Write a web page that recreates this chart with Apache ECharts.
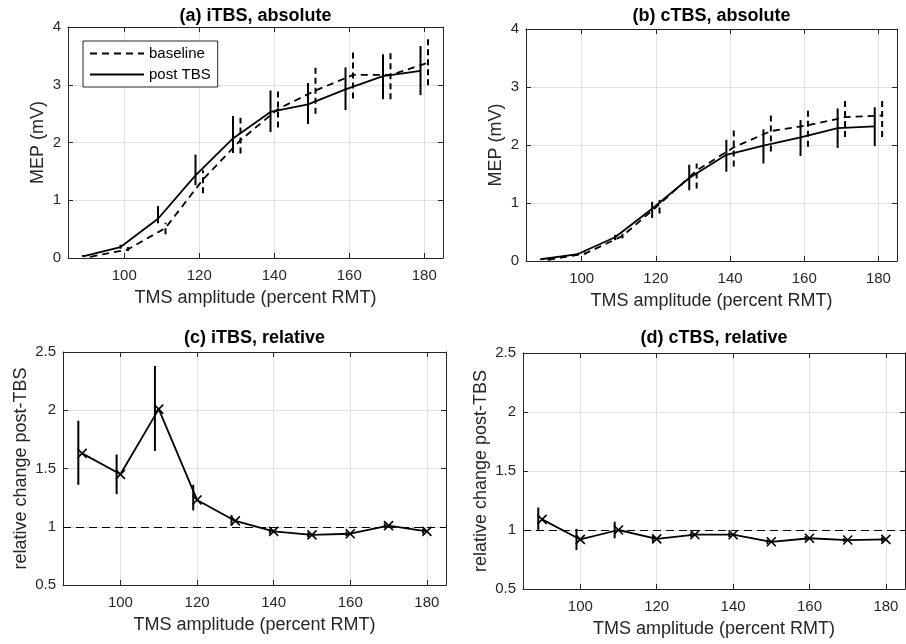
<!DOCTYPE html>
<html><head><meta charset="utf-8">
<script src="https://cdn.jsdelivr.net/npm/echarts@6/dist/echarts.min.js"></script>
<style>html,body{margin:0;padding:0;background:#fff}#c{width:906px;height:644px}</style>
</head><body><div id="c"></div>
<script>
// ---- data ----
const amp = [90,100,110,120,130,140,150,160,170,180];
const xTicks = [100,120,140,160,180];

// (a) iTBS absolute (MEP, mV)
const itbsBaseMean = [0.02,0.15,0.52,1.36,2.04,2.58,2.90,3.17,3.17,3.38];
const itbsBaseLo   = [0.01,0.12,0.41,1.12,1.81,2.26,2.50,2.76,2.75,2.99];
const itbsBaseHi   = [0.03,0.19,0.61,1.52,2.43,2.90,3.33,3.57,3.57,3.80];
const itbsPostMean = [0.03,0.19,0.68,1.43,2.07,2.53,2.66,2.92,3.15,3.24];
const itbsPostLo   = [0.02,0.16,0.60,1.26,1.82,2.18,2.32,2.56,2.75,2.82];
const itbsPostHi   = [0.05,0.23,0.90,1.79,2.46,2.90,3.03,3.30,3.53,3.67];

// (b) cTBS absolute (MEP, mV)
const ctbsBaseMean = [0.02,0.13,0.43,0.98,1.56,1.96,2.24,2.34,2.48,2.51];
const ctbsBaseLo   = [0.01,0.11,0.39,0.82,1.25,1.63,1.89,1.97,2.14,2.14];
const ctbsBaseHi   = [0.03,0.15,0.47,1.05,1.68,2.26,2.55,2.60,2.78,2.79];
const ctbsPostMean = [0.03,0.12,0.41,0.90,1.43,1.83,1.99,2.13,2.29,2.32];
const ctbsPostLo   = [0.02,0.10,0.36,0.74,1.22,1.54,1.68,1.81,1.95,1.98];
const ctbsPostHi   = [0.04,0.14,0.45,1.02,1.66,2.09,2.27,2.43,2.63,2.65];

// (c) iTBS relative change
const itbsRelMean = [1.63,1.45,2.01,1.23,1.05,0.96,0.93,0.94,1.01,0.96];
const itbsRelLo   = [1.36,1.28,1.65,1.14,1.01,0.94,0.91,0.92,0.99,0.94];
const itbsRelHi   = [1.91,1.62,2.38,1.36,1.10,0.98,0.95,0.96,1.03,0.98];

// (d) cTBS relative change
const ctbsRelMean = [1.09,0.92,1.00,0.925,0.96,0.96,0.90,0.93,0.915,0.92];
const ctbsRelLo   = [0.99,0.83,0.93,0.90,0.94,0.94,0.88,0.91,0.90,0.90];
const ctbsRelHi   = [1.19,1.01,1.07,0.95,0.98,0.98,0.92,0.95,0.93,0.94];

const titles = ['(a) iTBS, absolute','(b) cTBS, absolute','(c) iTBS, relative','(d) cTBS, relative'];

// ---- layout / style ----
const FF = 'Liberation Sans, Arial, Helvetica, sans-serif';
const TXT = '#262626';
const GRID = '#dfdfdf';
const grids = [
  {left:68, top:27, width:375, height:231},
  {left:526, top:29, width:371, height:232},
  {left:63, top:352, width:383, height:233},
  {left:523, top:353, width:382, height:236}
];
const titleTops = [7, 7, 329, 329];
const yNames = ['MEP (mV)','MEP (mV)','relative change post-TBS','relative change post-TBS'];
const yNameGaps = [21, 21, 33, 33];
const yRanges = [[0,4,1],[0,4,1],[0.5,2.5,0.5],[0.5,2.5,0.5]];

function pts(xs, ys, d){ return xs.map((x,i)=>[x+d, ys[i]]); }
function errPts(xs, lo, hi, d){ return xs.map((x,i)=>[x+d, lo[i], hi[i]]); }

function errSeries(gi, lo, hi, d, dashed){
  return {
    type:'custom', xAxisIndex:gi, yAxisIndex:gi, silent:true, z:3,
    data: errPts(amp, lo, hi, d), encode:{x:0, y:[1,2]},
    renderItem:function(params, api){
      const a = api.coord([api.value(0), api.value(1)]);
      const b = api.coord([api.value(0), api.value(2)]);
      return {type:'line', shape:{x1:a[0], y1:a[1], x2:b[0], y2:b[1]},
        style:{stroke:'#000', lineWidth:2, lineDash: dashed ? [6,4] : null}};
    }
  };
}
function lineSeries(gi, name, ys, d, dashed, extra){
  return Object.assign({
    type:'line', name:name, xAxisIndex:gi, yAxisIndex:gi, silent:true, z:4,
    data: pts(amp, ys, d), symbol:'none', showSymbol:false,
    lineStyle:{color:'#000', width:1.8, type: dashed ? [7,5] : 'solid'},
    itemStyle:{color:'#000'}
  }, extra || {});
}
const xSym = 'path://M0,0L10,10M10,0L0,10';
function relSeries(gi, ys){
  return lineSeries(gi, 'rel'+gi, ys, 0, false, {
    symbol:xSym, showSymbol:true, symbolSize:9,
    itemStyle:{color:'#000', borderColor:'#000', borderWidth:1.6},
    markLine:{silent:true, symbol:'none', label:{show:false},
      lineStyle:{color:'#000', width:1, type:[8,5]},
      data:[{yAxis:1}]}
  });
}

const xAxes = [], yAxes = [];
for (let gi=0; gi<4; gi++){
  xAxes.push({
    type:'value', gridIndex:gi, min:85, max:185,
    name:'TMS amplitude (percent RMT)', nameLocation:'middle', nameGap:31,
    nameTextStyle:{fontSize:18, color:TXT, fontFamily:FF},
    axisLine:{show:true, onZero:false, lineStyle:{color:TXT, width:1}},
    axisTick:{show:true, inside:true, length:5, customValues:xTicks, lineStyle:{color:TXT}},
    axisLabel:{show:true, customValues:xTicks, fontSize:15, color:TXT, margin:10, fontFamily:FF},
    splitLine:{show:true, lineStyle:{color:GRID, width:1}}
  });
  const [ymin, ymax, yint] = yRanges[gi];
  yAxes.push({
    type:'value', gridIndex:gi, min:ymin, max:ymax, interval:yint,
    name:yNames[gi], nameLocation:'middle', nameGap:yNameGaps[gi],
    nameTextStyle:{fontSize:18, color:TXT, fontFamily:FF},
    axisLine:{show:true, onZero:false, lineStyle:{color:TXT, width:1}},
    axisTick:{show:true, inside:true, length:5, lineStyle:{color:TXT}},
    axisLabel:{show:true, fontSize:15, color:TXT, margin:7, fontFamily:FF},
    splitLine:{show:true, lineStyle:{color:GRID, width:1}}
  });
}
for (let gi=0; gi<4; gi++){
  xAxes.push({
    type:'value', gridIndex:gi, min:85, max:185, position:'top',
    axisLine:{show:true, onZero:false, lineStyle:{color:TXT, width:1}},
    axisTick:{show:true, inside:true, length:5, customValues:xTicks, lineStyle:{color:TXT}},
    axisLabel:{show:false}, splitLine:{show:false}
  });
  const [ymin, ymax, yint] = yRanges[gi];
  yAxes.push({
    type:'value', gridIndex:gi, min:ymin, max:ymax, interval:yint, position:'right',
    axisLine:{show:true, onZero:false, lineStyle:{color:TXT, width:1}},
    axisTick:{show:true, inside:true, length:5, lineStyle:{color:TXT}},
    axisLabel:{show:false}, splitLine:{show:false}
  });
}

const series = [
  errSeries(0, itbsBaseLo, itbsBaseHi, 1, true),
  errSeries(0, itbsPostLo, itbsPostHi, -1, false),
  lineSeries(0, 'baseline', itbsBaseMean, 1, true),
  lineSeries(0, 'post TBS', itbsPostMean, -1, false),
  errSeries(1, ctbsBaseLo, ctbsBaseHi, 1, true),
  errSeries(1, ctbsPostLo, ctbsPostHi, -1, false),
  lineSeries(1, 'baseline cTBS', ctbsBaseMean, 1, true),
  lineSeries(1, 'post TBS cTBS', ctbsPostMean, -1, false),
  errSeries(2, itbsRelLo, itbsRelHi, -1, false),
  relSeries(2, itbsRelMean),
  errSeries(3, ctbsRelLo, ctbsRelHi, -1, false),
  relSeries(3, ctbsRelMean)
];

const chart = echarts.init(document.getElementById('c'), null, {renderer:'canvas'});
chart.setOption({
  animation:false,
  backgroundColor:'#fff',
  title: titles.map((t,i)=>({
    text:t, left: grids[i].left + grids[i].width/2, top:titleTops[i], textAlign:'center', padding:0,
    textStyle:{fontSize:18, fontWeight:'bold', color:'#000', fontFamily:FF}
  })),
  grid: grids,
  xAxis: xAxes,
  yAxis: yAxes,
  legend:{
    data:['baseline','post TBS'], orient:'vertical', left:83, top:41,
    itemWidth:54, itemHeight:14, itemGap:6, padding:[5,7,5,6],
    borderColor:TXT, borderWidth:1, backgroundColor:'#fff', selectedMode:false,
    itemStyle:{opacity:0},
    textStyle:{fontSize:15, color:'#000', fontFamily:FF}
  },
  series: series
});
</script>
</body></html>
